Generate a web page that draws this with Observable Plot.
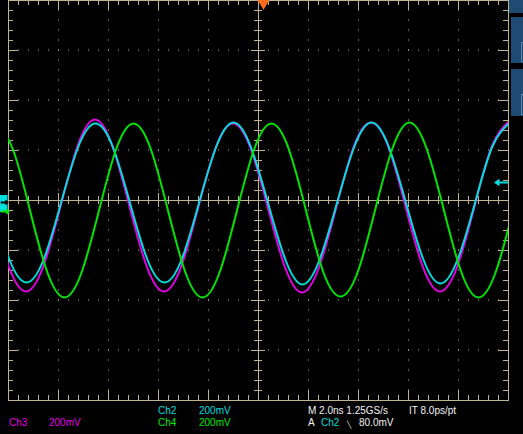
<!DOCTYPE html>
<html><head><meta charset="utf-8">
<script src="https://cdn.jsdelivr.net/npm/d3@7"></script>
<script src="https://cdn.jsdelivr.net/npm/@observablehq/plot@0.6"></script>
<style>
html,body{margin:0;padding:0;background:#000;}
#wrap{position:relative;width:523px;height:434px;overflow:hidden;background:#000;font-family:"Liberation Sans",Arial,sans-serif;font-size:10px;}
#wrap svg{position:absolute;left:0;top:0;}
.lbl{position:absolute;line-height:10px;white-space:nowrap;}
.pnl{position:absolute;background:#1f4b72;}
.brk{position:absolute;border:1px solid #4f82ad;border-right:none;}
</style></head><body><div id="wrap"></div>
<script>
// ---- data (time in ns, voltage in mV relative to screen centre) ----
const ch2Times = [-0.66,0.03,0.72,1.41,2.10,2.79,3.48,4.17,4.86,5.55,6.24,6.93,7.62,8.31,9.00,9.69,10.38,11.07,11.76,12.45,13.14,13.83,14.52,15.21,15.90,16.59,17.28,17.97,18.66,19.35,20.04];
const ch2Values = [-10,-235,-328,-235,-10,215,308,215,-10,-235,-328,-235,-10,215,312,215,-10,-235,-336,-235,-10,215,312,215,-10,-235,-332,-235,-10,215,310];

const ch3Times = [-0.68,0.01,0.70,1.39,2.08,2.77,3.46,4.15,4.84,5.53,6.22,6.91,7.60,8.29,8.98,9.67,10.36,11.05,11.74,12.43,13.12,13.81,14.50,15.19,15.88,16.57,17.26,17.95,18.64,19.33,20.02];
const ch3Values = [-24,-264,-364,-264,-24,220,324,220,-24,-264,-364,-264,-24,212,308,212,-24,-264,-368,-264,-24,216,312,216,-24,-264,-364,-264,-24,216,316];

const ch4Times = [-0.52,0.17,0.86,1.55,2.24,2.93,3.62,4.31,5.00,5.69,6.38,7.07,7.76,8.45,9.14,9.83,10.52,11.21,11.90,12.59,13.28,13.97,14.66,15.35,16.04,16.73,17.42,18.11,18.80,19.49,20.18];
const ch4Values = [308,206,-40,-286,-388,-286,-40,206,308,206,-40,-286,-388,-286,-40,206,308,206,-40,-286,-384,-286,-40,206,312,206,-40,-286,-388,-286,-40];

const channelNames = ["Ch2","Ch3","Ch4"];
const channelScales = ["200mV","200mV","200mV"];
const groundLevels = {Ch2: -8, Ch4: -44};     // mV, ground markers on the left
const triggerLevel = 80;                      // mV above Ch2 ground
const triggerTime = 10.2;                     // ns, trigger position marker
const timebase = "M 2.0ns 1.25GS/s";
const interp = "IT 8.0ps/pt";
const triggerText = "80.0mV";

const C = {Ch2:"#00dede", Ch3:"#e600e6", Ch4:"#00e600", grat:"#bfb68f", white:"#f2f2f2", trig:"#ff6a1a"};

const mk = (T, V) => T.map((t, i) => ({t, v: V[i]}));
const ch2 = mk(ch2Times, ch2Values), ch3 = mk(ch3Times, ch3Values), ch4 = mk(ch4Times, ch4Values);

// graticule geometry: 10 x 2 ns, 8 x 200 mV, 5 minor per major
const minorX = d3.range(0, 20.001, 0.4).map(d => +d.toFixed(2));
const minorY = d3.range(-800, 800.001, 40);
const isMajX = d => Math.abs(d / 2 - Math.round(d / 2)) < 1e-6;
const isMajY = d => d % 200 === 0;
const innerMajX = minorX.filter(d => isMajX(d) && d > 0 && d < 20 && d !== 10);
const innerMajY = minorY.filter(d => isMajY(d) && d > -800 && d < 800 && d !== 0);
const dotsA = innerMajX.flatMap(x => minorY.filter(y => y > -800 && y < 800 && y !== 0).map(y => ({x, y})));
const dotsB = innerMajY.flatMap(y => minorX.filter(x => x > 0 && x < 20 && x !== 10).map(x => ({x, y})));
const dots = dotsA.concat(dotsB);

const px = 0.04, py = 4; // one pixel in data units
const g = C.grat;
const tickMinX = minorX.filter(d => !isMajX(d)), tickMajX = minorX.filter(isMajX);
const tickMinY = minorY.filter(d => !isMajY(d)), tickMajY = minorY.filter(isMajY);

const gr = groundLevels;
const chart = Plot.plot({
  width: 523, height: 434,
  marginLeft: 8, marginRight: 15, marginTop: 0, marginBottom: 34,
  style: {background: "transparent", overflow: "visible"},
  x: {domain: [0, 20], axis: null},
  y: {domain: [-800, 800], axis: null},
  marks: [
    // dotted grid
    Plot.ruleX(dots, {x: "x", y1: d => d.y + py/2, y2: d => d.y - py/2, stroke: g, strokeWidth: 1}),
    // centre cross
    Plot.ruleX([10], {stroke: g}),
    Plot.ruleY([0], {stroke: g}),
    Plot.ruleX(tickMinX, {y1: 4*py, y2: -4*py, stroke: g}),
    Plot.ruleX(tickMajX, {y1: 7*py, y2: -7*py, stroke: g}),
    Plot.ruleY(tickMinY, {x1: 10 - 4*px, x2: 10 + 4*px, stroke: g}),
    Plot.ruleY(tickMajY, {x1: 10 - 7*px, x2: 10 + 7*px, stroke: g}),
    // border ticks
    Plot.ruleX(tickMinX, {y1: 800, y2: 800 - 5*py, stroke: g}),
    Plot.ruleX(tickMajX, {y1: 800, y2: 800 - 10*py, stroke: g}),
    Plot.ruleX(tickMinX, {y1: -800, y2: -800 + 5*py, stroke: g}),
    Plot.ruleX(tickMajX, {y1: -800, y2: -800 + 10*py, stroke: g}),
    Plot.ruleY(tickMinY, {x1: 0, x2: 5*px, stroke: g}),
    Plot.ruleY(tickMajY, {x1: 0, x2: 10*px, stroke: g}),
    Plot.ruleY(tickMinY, {x1: 20, x2: 20 - 5*px, stroke: g}),
    Plot.ruleY(tickMajY, {x1: 20, x2: 20 - 10*px, stroke: g}),
    Plot.frame({stroke: g}),
    // waveforms
    Plot.line(ch3, {x: "t", y: "v", stroke: C.Ch3, strokeWidth: 2, curve: "natural", clip: true}),
    Plot.line(ch2, {x: "t", y: "v", stroke: C.Ch2, strokeWidth: 2, curve: "natural", clip: true}),
    Plot.line(ch4, {x: "t", y: "v", stroke: C.Ch4, strokeWidth: 2, curve: "natural", clip: true}),
    // trigger level arrow (right)
    Plot.arrow([gr.Ch2 + triggerLevel], {x1: 20 - 1*px, x2: 20 - 13*px, y1: d => d, y2: d => d, stroke: C.Ch2, strokeWidth: 2, headLength: 7, headAngle: 70}),
    // ground markers (left)
    Plot.rect([gr.Ch2], {x1: -8*px, x2: 0, y1: d => d + 7*py, y2: d => d - 10*py, fill: C.Ch2, insetRight: 0.5}),
    Plot.arrow([gr.Ch2], {x1: -7*px, x2: -1*px, y1: d => d, y2: d => d, stroke: "#000", strokeWidth: 2, headLength: 4, headAngle: 90}),
    Plot.arrow([gr.Ch4], {x1: -7*px, x2: 0, y1: d => d, y2: d => d, stroke: C.Ch4, strokeWidth: 2, headLength: 4, headAngle: 90}),
    // trigger position marker (top)
    Plot.dot([triggerTime], {x: d => d, y: 800, symbol: "triangle", rotate: 180, r: 4.5, fill: C.trig, stroke: "none", dy: 2.5})
  ]
});

const wrap = document.getElementById("wrap");
wrap.appendChild(chart);

// right-hand menu panels
[[509,0,14,13],[511,17,12,46],[511,69,12,47]].forEach(([l,t,w,h]) => {
  const d = document.createElement("div"); d.className = "pnl";
  Object.assign(d.style, {left: l+"px", top: t+"px", width: w+"px", height: h+"px"});
  wrap.appendChild(d);
});
[[521,42,4,18],[521,94,4,19]].forEach(([l,t,w,h]) => {
  const d = document.createElement("div"); d.className = "brk";
  Object.assign(d.style, {left: l+"px", top: t+"px", width: w+"px", height: h+"px"});
  wrap.appendChild(d);
});

// readout text
const row = [405.5, 417.5];
const labels = [
  [channelNames[0], 158, 0, C.Ch2], [channelScales[0], 199, 0, C.Ch2],
  [channelNames[1], 9, 1, C.Ch3],   [channelScales[1], 49, 1, C.Ch3],
  [channelNames[2], 158, 1, C.Ch4], [channelScales[2], 199, 1, C.Ch4],
  [timebase, 308, 0, C.white], [interp, 409, 0, C.white],
  ["A", 308, 1, C.white], [channelNames[0], 321, 1, C.Ch2], ["\u2572", 347, 1, C.white], [triggerText, 359, 1, C.white]
];
labels.forEach(([txt, x, r, col]) => {
  const d = document.createElement("div"); d.className = "lbl";
  d.textContent = txt;
  Object.assign(d.style, {left: x+"px", top: row[r]+"px", color: col});
  if (txt === "\u2572") { d.style.fontSize = "7px"; d.style.top = (row[r] + 2) + "px"; }
  wrap.appendChild(d);
});
</script></body></html>
